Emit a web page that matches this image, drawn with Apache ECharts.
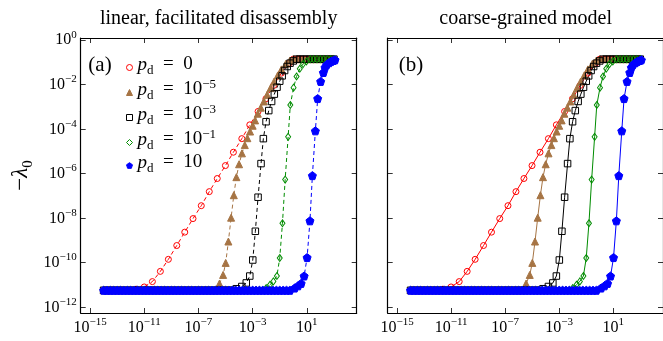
<!DOCTYPE html>
<html><head><meta charset="utf-8">
<script src="https://cdn.jsdelivr.net/npm/echarts@6/dist/echarts.min.js"></script>
<style>html,body{margin:0;padding:0;background:#fff}#c{width:663px;height:341px}</style>
</head><body><div id="c"></div>
<script>
// All values are log10 exponents.
const gridX = [-14,-13.75,-13.5,-13.25,-13,-12.75,-12.5,-12.25,-12,-11.75,-11.5,-11.25,-11,-10.75,-10.5,-10.25,-10,-9.75,-9.5,-9.25,-9,-8.75,-8.5,-8.25,-8,-7.75,-7.5,-7.25,-7,-6.75,-6.5,-6.25,-6,-5.75,-5.5,-5.25,-5,-4.75,-4.5,-4.25,-4,-3.75,-3.5,-3.25,-3,-2.75,-2.5,-2.25,-2,-1.75,-1.5,-1.25,-1,-0.75,-0.5,-0.25,0,0.25,0.5,0.75,1,1.25,1.5,1.75,2,2.25,2.5,2.75,3];
const floorLevel = -11.25;
const ceilLevel = -0.87;

const redX = [-11.6,-11.0,-10.4,-9.81,-9.22,-8.6,-8.01,-7.4,-6.79,-6.2,-5.61,-5.01,-4.42,-3.8,-3.21,-2.6,-2.02,-1.45,-0.88,-0.3];
const redY = [-11.2,-11.1,-10.86,-10.4,-9.86,-9.24,-8.64,-8.03,-7.45,-6.82,-6.23,-5.65,-5.05,-4.44,-3.82,-3.22,-2.65,-2.05,-1.5,-1.05];

const brownX = [-5.45,-5.18,-4.99,-4.79,-4.59,-4.39,-4.2,-4.0,-3.79,-3.58,-3.39,-3.19,-3.0,-2.82,-2.62,-2.4,-2.17,-1.93,-1.68,-1.42,-1.15,-0.88,-0.55,-0.25];
const brownY = [-10.95,-10.56,-10.02,-9.06,-7.99,-6.98,-6.17,-5.59,-5.1,-4.73,-4.42,-4.12,-3.86,-3.62,-3.32,-3.05,-2.77,-2.47,-2.17,-1.88,-1.6,-1.33,-1.08,-0.93];

const blackX = [-4.2,-3.8,-3.47,-3.21,-2.99,-2.8,-2.6,-2.38,-2.21,-2.01,-1.81,-1.6,-1.4,-1.2,-1.0,-0.82,-0.64,-0.45,-0.24,0.0];
const blackY = [-11.18,-11.08,-10.92,-10.61,-9.89,-8.6,-7.07,-5.56,-4.44,-3.68,-3.18,-2.77,-2.44,-2.13,-1.86,-1.62,-1.38,-1.2,-1.05,-0.95];

const greenX = [-2.0,-1.72,-1.47,-1.21,-1.0,-0.8,-0.6,-0.38,-0.22,0.02,0.24,0.48,0.72,0.97];
const greenY = [-11.15,-11.0,-10.85,-10.61,-9.8,-8.24,-6.28,-4.36,-2.93,-2.15,-1.65,-1.3,-1.09,-0.97];

const blueX = [0.1,0.35,0.58,0.8,1.02,1.23,1.41,1.63,1.8,2.02,2.22,2.34,2.46,2.64,2.79,2.96,3.08];
const blueY = [-11.15,-11.05,-10.94,-10.61,-9.78,-8.13,-6.1,-4.09,-2.64,-1.87,-1.47,-1.24,-1.12,-1.03,-0.97,-0.93,-0.9];

const seriesNames = ['pd0','pd-5','pd-3','pd-1','pd10'];
const legendLabels = ['{p|p}{d|d}{e|  =  0}','{p|p}{d|d}{e|  =  10}{s|−5}','{p|p}{d|d}{e|  =  10}{s|−3}','{p|p}{d|d}{e|  =  10}{s|−1}','{p|p}{d|d}{e|  =  10}'];
const xTicks = [-15,-11,-7,-3,1];
const yTicks = [0,-2,-4,-6,-8,-10,-12];
const panelTitles = ['linear, facilitated disassembly','coarse-grained model'];
const panelTags = ['(a)','(b)'];

function build(xs, ys){
  const pre = gridX.filter(x => x < xs[0] - 0.12).map(x => [x, floorLevel]);
  const mid = xs.map((x,i) => [x, ys[i]]);
  const post = gridX.filter(x => x > xs[xs.length-1] + 0.12).map(x => [x, ceilLevel]);
  return pre.concat(mid, post);
}
const FONT = 'Liberation Serif';
const pent = 'path://M0,-1 L0.951,-0.309 L0.588,0.809 L-0.588,0.809 L-0.951,-0.309 Z';
const styles = [
  {color:'#ff0000', symbol:'circle', size:6, fill:'transparent'},
  {color:'#a67444', symbol:'triangle', size:7, fill:'#a67444'},
  {color:'#000000', symbol:'rect', size:6.5, fill:'transparent'},
  {color:'#008c00', symbol:'diamond', size:[5,7], fill:'transparent'},
  {color:'#0000ff', symbol:pent, size:8, fill:'#0000ff'}
];
const dataSets = [build(redX,redY), build(brownX,brownY), build(blackX,blackY), build(greenX,greenY), build(blueX,blueY)];

const series = [];
[0,1].forEach(g => {
  dataSets.forEach((d,i) => {
    const st = styles[i];
    series.push({
      type:'line', name:seriesNames[i], xAxisIndex:g*2, yAxisIndex:g*2, data:d,
      symbol:st.symbol, symbolSize:st.size, showAllSymbol:true, animation:false,
      lineStyle:{color:st.color, width:1, type: g===0 ? [4,3] : 'solid'},
      itemStyle:{color:st.fill, borderColor:st.color, borderWidth:1},
      emphasis:{disabled:true}
    });
  });
});

const supRich = {
  b:{fontFamily:FONT, fontSize:16, color:'#000', verticalAlign:'bottom', lineHeight:17},
  s:{fontFamily:FONT, fontSize:11, color:'#000', verticalAlign:'bottom', lineHeight:12, padding:[0,0,8,0]}
};
const expLabel = v => { const r = Math.round(v); return '{b|10}{s|' + (r<0 ? '−'+(-r) : r) + '}'; };
const axisCommon = {
  axisLine:{onZero:false, lineStyle:{color:'#000', width:1.2}},
  splitLine:{show:false}
};
const xAxes = [], yAxes = [];
[0,1].forEach(g => {
  xAxes.push(Object.assign({type:'value', gridIndex:g, min:-15.69, max:4.68, position:'bottom',
    axisTick:{inside:true, length:5, customValues:xTicks, lineStyle:{color:'#000', width:0.8}},
    axisLabel:{customValues:xTicks, formatter:expLabel, rich:supRich, margin:6, color:'#000'}}, axisCommon));
  xAxes.push(Object.assign({type:'value', gridIndex:g, min:-15.69, max:4.68, position:'top',
    axisTick:{inside:true, length:5, customValues:xTicks, lineStyle:{color:'#000', width:0.8}},
    axisLabel:{show:false}}, axisCommon));
  yAxes.push(Object.assign({type:'value', gridIndex:g, min:-12.27, max:0.08, position:'left',
    axisTick:{inside:true, length:5, customValues:yTicks, lineStyle:{color:'#000', width:0.8}},
    axisLabel:{show:g===0, customValues:yTicks, formatter:expLabel, rich:supRich, margin:4, color:'#000'},
    name: g===0 ? '{m|−}{l|λ}{z|0}' : '', nameLocation:'middle', nameGap:45, nameRotate:90,
    nameTextStyle:{rich:{
      m:{fontFamily:FONT, fontSize:23, color:'#000', verticalAlign:'bottom', lineHeight:24, padding:[0,0,3,0]},
      l:{fontFamily:FONT, fontStyle:'italic', fontSize:23, color:'#000', verticalAlign:'bottom', lineHeight:24, padding:[0,0,3,0]},
      z:{fontFamily:FONT, fontSize:15, color:'#000', verticalAlign:'bottom', lineHeight:16}
    }}}, axisCommon));
  yAxes.push(Object.assign({type:'value', gridIndex:g, min:-12.27, max:0.08, position:'right',
    axisTick:{inside:true, length:5, customValues:yTicks, lineStyle:{color:'#000', width:0.8}},
    axisLabel:{show:false}}, axisCommon));
});

const legRich = {
  p:{fontFamily:FONT, fontStyle:'italic', fontSize:19, color:'#000', verticalAlign:'bottom', lineHeight:19, padding:[0,0,3,0]},
  d:{fontFamily:FONT, fontSize:13, color:'#000', verticalAlign:'bottom', lineHeight:14},
  e:{fontFamily:FONT, fontSize:19, color:'#000', verticalAlign:'bottom', lineHeight:19, padding:[0,0,3,0]},
  s:{fontFamily:FONT, fontSize:13, color:'#000', verticalAlign:'bottom', lineHeight:14, padding:[0,0,11,0]}
};
const chart = echarts.init(document.getElementById('c'), null, {renderer:'canvas'});
chart.setOption({
  animation:false,
  backgroundColor:'#fff',
  grid:[{left:80.7, top:38, width:276, height:275},{left:387.7, top:38, width:276, height:275}],
  xAxis:xAxes, yAxis:yAxes, series:series,
  legend:{
    left:126, top:55, padding:0, orient:'vertical', itemGap:1, itemWidth:6, itemHeight:6,
    selectedMode:false,
    data: seriesNames.map((n,i) => ({name:n, icon: styles[i].symbol,
      itemStyle:{color:styles[i].fill, borderColor:styles[i].color, borderWidth:1}})),
    formatter: n => legendLabels[seriesNames.indexOf(n)],
    textStyle:{rich:legRich}
  },
  graphic:[
    {type:'text', x:218.7, y:19, style:{text:panelTitles[0], font:'20px "Liberation Serif"', fill:'#000', align:'center', verticalAlign:'middle'}},
    {type:'text', x:525.7, y:19, style:{text:panelTitles[1], font:'20px "Liberation Serif"', fill:'#000', align:'center', verticalAlign:'middle'}},
    {type:'text', x:100, y:65, style:{text:panelTags[0], font:'21px "Liberation Serif"', fill:'#000', align:'center', verticalAlign:'middle'}},
    {type:'text', x:411, y:65, style:{text:panelTags[1], font:'21px "Liberation Serif"', fill:'#000', align:'center', verticalAlign:'middle'}}
  ]
});
</script></body></html>
